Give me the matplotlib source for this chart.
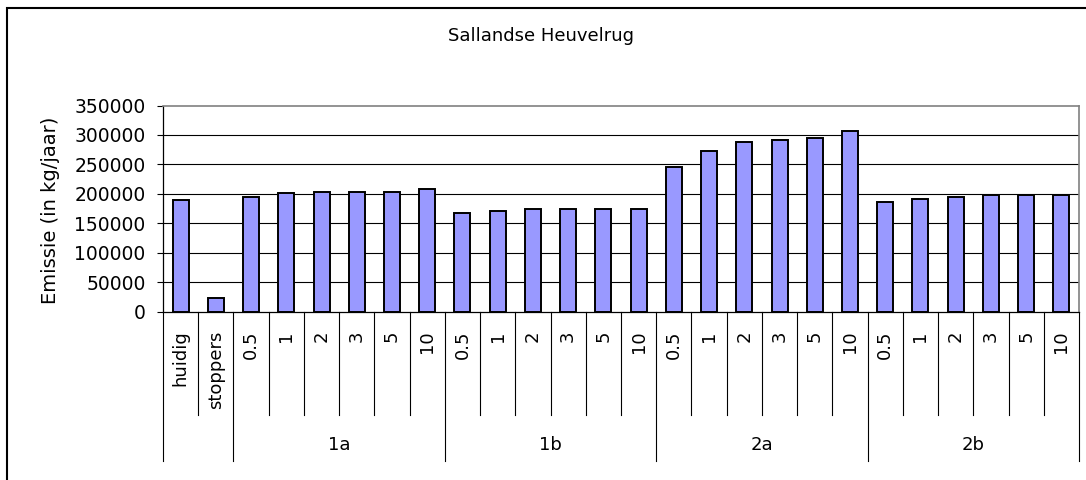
import matplotlib
matplotlib.use("Agg")
import matplotlib.pyplot as plt
from matplotlib.patches import Rectangle

plt.rcParams['font.family'] = ['DejaVu Sans']

title = "Sallandse Heuvelrug"
ylabel = "Emissie (in kg/jaar)"
base_categories = ["huidig", "stoppers"]
sub_labels = ["0.5", "1", "2", "3", "5", "10"]
groups = ["1a", "1b", "2a", "2b"]

base_values = [189000, 24000]
values_1a = [195000, 201000, 204000, 204000, 204000, 208000]
values_1b = [168000, 171000, 175000, 175000, 175000, 175000]
values_2a = [246000, 273000, 288000, 292000, 294000, 307000]
values_2b = [186000, 192000, 195000, 198000, 198000, 198000]
yticks = [0, 50000, 100000, 150000, 200000, 250000, 300000, 350000]

categories = base_categories + sub_labels * len(groups)
values = base_values + values_1a + values_1b + values_2a + values_2b
n = len(categories)

fig = plt.figure(figsize=(10.86, 4.8), dpi=100)
ax = fig.add_axes([163 / 1086, 168.3 / 480, (1079 - 163) / 1086, 206.2 / 480])

x = list(range(n))
ax.bar(x, values, width=0.455, color="#9999FF", edgecolor="black", linewidth=1.4, zorder=3)

ax.set_xlim(-0.5, n - 0.5)
ax.set_ylim(0, 350000)
ax.set_yticks(yticks)
ax.set_yticklabels([str(v) for v in yticks], fontsize=13.5)
ax.tick_params(axis="y", direction="out", length=4.5, width=0.8, pad=8, colors="black")
ax.set_xticks([])
for v in yticks[1:-1]:
    ax.axhline(v, color="black", linewidth=0.8, zorder=1)

for s in ["top", "right"]:
    ax.spines[s].set_color("#808080")
    ax.spines[s].set_linewidth(1.2)
for s in ["left", "bottom"]:
    ax.spines[s].set_color("black")
    ax.spines[s].set_linewidth(0.9)

tr = ax.get_xaxis_transform()
# separators
group_bounds = {-0.5, 1.5}
for g in range(len(groups) + 1):
    group_bounds.add(1.5 + 6 * g)
for i in range(n + 1):
    b = i - 0.5
    bottom = -0.724 if b in group_bounds else -0.501
    ax.plot([b, b], [0, bottom], transform=tr, color="black", linewidth=0.8, clip_on=False)

for i, lab in enumerate(categories):
    ax.text(i, -0.09, lab, transform=tr, rotation=90, ha="center", va="top", fontsize=13)

for g, name in enumerate(groups):
    center = 2 + 6 * g + 2.5
    ax.text(center, -0.645, name, transform=tr, ha="center", va="center", fontsize=13)

ax.set_ylabel(ylabel, fontsize=14, labelpad=10)
ax.yaxis.set_label_coords(-0.112, 0.49)

fig.text(0.4986, 0.925, title, ha="center", va="center", fontsize=13)

fig.patches.append(Rectangle((7 / 1086, -0.1), 1.2, 1.1 - 8 / 480 + 0.0,
                             transform=fig.transFigure, fill=False,
                             edgecolor="black", linewidth=1.5))

fig.savefig("out.png", dpi=100, facecolor="white")
